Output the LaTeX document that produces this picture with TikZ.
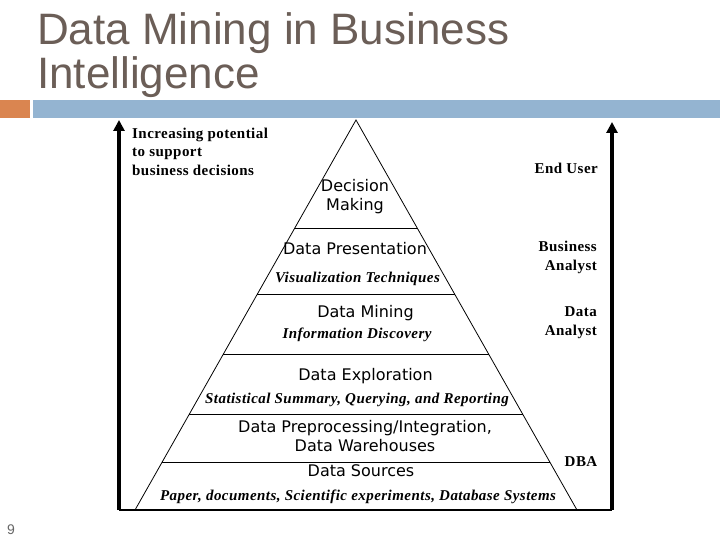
\documentclass[tikz,border=0pt]{standalone}
\usepackage{xcolor}
\usepackage{fontspec}
\setmainfont{Liberation Serif}
\newfontfamily\titlefont{Liberation Sans}
\newfontfamily\layerfont{DejaVu Sans}
\newfontfamily\wideserif[LetterSpace=3]{Liberation Serif}
\usetikzlibrary{calc,arrows.meta}
\definecolor{titlegray}{HTML}{6B5E57}
\definecolor{barorange}{HTML}{DA8550}
\definecolor{barblue}{HTML}{94B4D1}

\begin{document}
\begin{tikzpicture}[x=1bp, y=-1bp,
	layer/.style={font=\layerfont\fontsize{16bp}{19bp}\selectfont, inner sep=0pt, align=center},
	method/.style={font=\wideserif\bfseries\itshape\fontsize{15bp}{18bp}\selectfont, inner sep=0pt, anchor=base},
	role/.style={font=\wideserif\bfseries\fontsize{15bp}{19bp}\selectfont, inner sep=0pt, align=right, anchor=east},
	axis/.style={line width=4bp, -{Triangle[width=11bp,length=11bp]}}]
	\useasboundingbox (0,0) rectangle (720,540);
	% Draw the title and the bar
	\node[anchor=base west, inner sep=0pt, text=titlegray, font=\titlefont\fontsize{44bp}{44bp}\selectfont] (title1) at (37,45) {Data Mining in Business};
	\node[anchor=base west, inner sep=0pt, text=titlegray, font=\titlefont\fontsize{44bp}{44bp}\selectfont] (title2) at (37,89) {Intelligence};
	\fill[barorange] (0,100) rectangle (30,118);
	\fill[barblue] (33,100) rectangle (720,118);
	\node[text=gray!80!black, font=\titlefont\fontsize{14bp}{14bp}\selectfont, inner sep=0pt] (page) at (11,530) {9};

	% Draw the frame with the two arrows
	\coordinate (lb) at (119,510);
	\coordinate (lt) at (119,120);
	\coordinate (rb) at (612,510);
	\coordinate (rt) at (612,122);
	\draw[line width=2bp] (lb) -- (rb);
	\draw[axis] (lb) -- (lt);
	\draw[axis] (rb) -- (rt);

	% Draw the pyramid
	\coordinate (apex) at (356,120);
	\coordinate (bl) at (135,510);
	\coordinate (br) at (577,510);
	\draw[line width=0.8bp] (bl) -- (apex) -- (br);
	\foreach \t in {0.2769,0.4462,0.6,0.7538,0.8769}
		\draw[line width=0.8bp] ($(apex)!\t!(bl)$) -- ($(apex)!\t!(br)$);

	% Label the layers
	\node[layer] (decision) at (355,196.5) {Decision\\Making};
	\node[layer, anchor=base] (present) at (355,255) {Data Presentation};
	\node[method] (visual) at (357.5,283) {Visualization Techniques};
	\node[layer, anchor=base] (mining) at (365.5,317) {Data Mining};
	\node[method] (discover) at (357,338) {Information Discovery};
	\node[layer, anchor=base] (explore) at (365.5,380) {Data Exploration};
	\node[method] (stats) at (357,403) {Statistical Summary, Querying, and Reporting};
	\node[layer] (prep) at (365,436.5) {Data Preprocessing/Integration,\\Data Warehouses};
	\node[layer, anchor=base] (sources) at (361,476.5) {Data Sources};
	\node[method] (paper) at (358,500.5) {Paper, documents, Scientific experiments, Database Systems};

	% Label the users
	\node[font=\wideserif\bfseries\fontsize{15bp}{18.5bp}\selectfont, inner sep=0pt, align=left, anchor=west] (potential) at (132,151.5) {Increasing potential\\to support\\business decisions};
	\node[role] (enduser) at (598,168) {End User};
	\node[role] (business) at (597,257) {Business\\Analyst};
	\node[role] (analyst) at (597,323) {Data\\Analyst};
	\node[role, anchor=base] (dba) at (581,466.5) {DBA};
\end{tikzpicture}
\end{document}
